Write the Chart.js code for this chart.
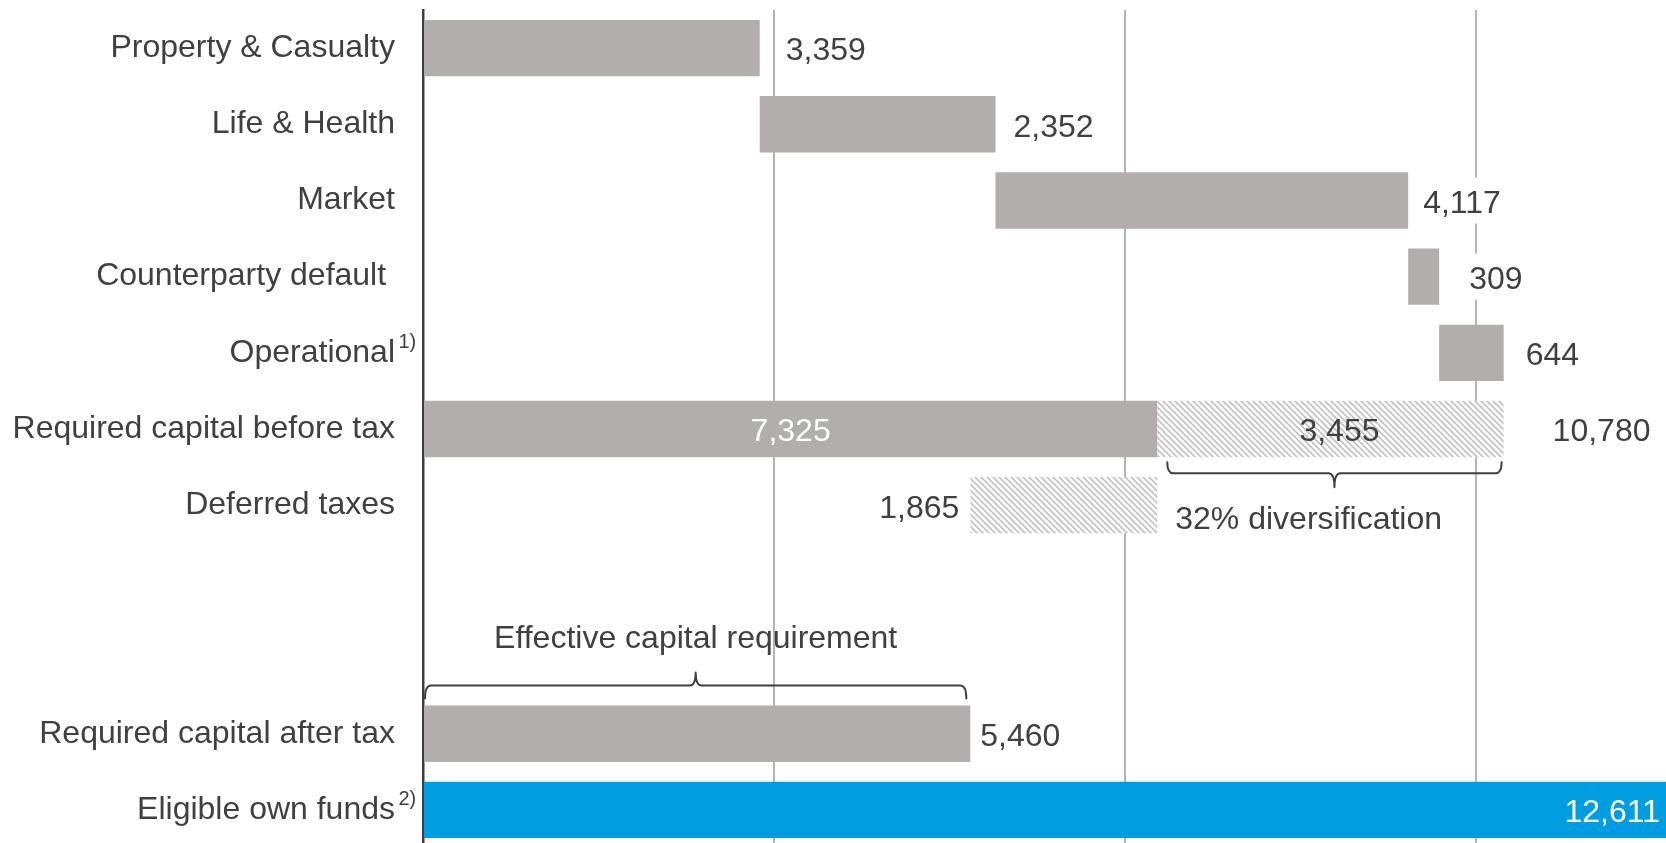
<!DOCTYPE html>
<html>
<head>
<meta charset="utf-8">
<title>Required capital and eligible own funds</title>
<script src="https://cdn.jsdelivr.net/npm/chart.js@4.4.1/dist/chart.umd.min.js"></script>
<style>
  html, body { margin: 0; padding: 0; background: #ffffff; overflow: hidden; }
  #wrap { position: relative; width: 1666px; height: 843px; overflow: hidden; }
  canvas { display: block; }
</style>
</head>
<body>
<div id="wrap"><canvas id="chart" width="1666" height="850"></canvas></div>
<script>
// ---- data -----------------------------------------------------------------
const categories = [
  'Property & Casualty', 'Life & Health', 'Market', 'Counterparty default ',
  'Operational', 'Required capital before tax', 'Deferred taxes', '', '',
  'Required capital after tax', 'Eligible own funds'
];
const footnotes = ['', '', '', '', '1)', '', '', '', '', '', '2)'];
const riskModules = [3359, 2352, 4117, 309, 644];   // stacked one after another
const undiversifiedTotal = [10780];
const diversification = [3455];
const requiredBeforeTax = [7325];
const deferredTaxes = [1865];
const requiredAfterTax = [5460];
const eligibleOwnFunds = [12611];
const gridValues = [0, 3500, 7000, 10500];
const axisMax = 12400;

// ---- look -----------------------------------------------------------------
const FONT = '"Liberation Sans", Arial, Helvetica, sans-serif';
const TEXT = '#404040';
const GREY = '#b3aeae';
const BLUE = '#009ee0';
const GRID = '#b8b3b3';

const fmt = v => v.toLocaleString('en-US');

// ---- bar ranges built from the values above ---------------------------------
const n = categories.length;
const solidBars = new Array(n).fill(null);
const hatchedBars = new Array(n).fill(null);
const blueBars = new Array(n).fill(null);

let running = 0;
riskModules.forEach((v, i) => { solidBars[i] = [running, running + v]; running += v; });
solidBars[5] = [0, requiredBeforeTax[0]];
hatchedBars[5] = [requiredBeforeTax[0], undiversifiedTotal[0]];
hatchedBars[6] = [requiredAfterTax[0], requiredAfterTax[0] + deferredTaxes[0]];
solidBars[9] = [0, requiredAfterTax[0]];
blueBars[10] = [0, eligibleOwnFunds[0]];

const canvas = document.getElementById('chart');
const ctx = canvas.getContext('2d');

function hatchPattern() {
  const s = 6;
  const t = document.createElement('canvas');
  t.width = s; t.height = s;
  const g = t.getContext('2d');
  g.fillStyle = '#ffffff';
  g.fillRect(0, 0, s, s);
  g.strokeStyle = '#c2c2c2';
  g.lineWidth = 1.6;
  g.beginPath();
  g.moveTo(-1, -1); g.lineTo(s + 1, s + 1);
  g.moveTo(-1, s - 1); g.lineTo(1, s + 1);
  g.moveTo(s - 1, -1); g.lineTo(s + 1, 1);
  g.stroke();
  return ctx.createPattern(t, 'repeat');
}

// value labels: which bar, where, colour, extra gap in px
const valueLabels = [
  { ds: 0, i: 0, text: fmt(riskModules[0]), pos: 'right', gap: 26 },
  { ds: 0, i: 1, text: fmt(riskModules[1]), pos: 'right', gap: 18 },
  { ds: 0, i: 2, text: fmt(riskModules[2]), pos: 'right', gap: 15 },
  { ds: 0, i: 3, text: fmt(riskModules[3]), pos: 'right', gap: 30 },
  { ds: 0, i: 4, text: fmt(riskModules[4]), pos: 'right', gap: 22 },
  { ds: 0, i: 5, text: fmt(requiredBeforeTax[0]), pos: 'center', color: '#ffffff', gap: 0 },
  { ds: 1, i: 5, text: fmt(diversification[0]), pos: 'center', gap: 9 },
  { ds: 1, i: 5, text: fmt(undiversifiedTotal[0]), pos: 'right', gap: 49 },
  { ds: 1, i: 6, text: fmt(deferredTaxes[0]), pos: 'left', gap: 11 },
  { ds: 0, i: 9, text: fmt(requiredAfterTax[0]), pos: 'right', gap: 10 },
  { ds: 2, i: 10, text: fmt(eligibleOwnFunds[0]), pos: 'insideEnd', color: '#ffffff', gap: 6 }
];

function drawBrace(g, x1, x2, yEnd, yLine, yNotch, r) {
  const xc = (x1 + x2) / 2;
  g.beginPath();
  g.moveTo(x1, yEnd);
  g.quadraticCurveTo(x1, yLine, x1 + r, yLine);
  g.lineTo(xc - r, yLine);
  g.quadraticCurveTo(xc, yLine, xc, yNotch);
  g.quadraticCurveTo(xc, yLine, xc + r, yLine);
  g.lineTo(x2 - r, yLine);
  g.quadraticCurveTo(x2, yLine, x2, yEnd);
  g.stroke();
}

const annotations = {
  id: 'annotations',
  afterDraw(chart) {
    const g = chart.ctx;
    const xs = chart.scales.x;
    const ys = chart.scales.y;
    g.save();

    // value labels
    g.font = '32px ' + FONT;
    g.textBaseline = 'middle';
    valueLabels.forEach(l => {
      const el = chart.getDatasetMeta(l.ds).data[l.i];
      if (!el) return;
      const left = Math.min(el.x, el.base), right = Math.max(el.x, el.base);
      const w = g.measureText(l.text).width;
      const y = el.y + 3.5;
      let x;
      if (l.pos === 'right') x = right + l.gap;
      else if (l.pos === 'left') x = left - l.gap - w;
      else if (l.pos === 'center') x = (left + right) / 2 - w / 2 + l.gap;
      else x = Math.min(right, chart.chartArea.right) - l.gap - w;
      if (l.pos === 'right' || l.pos === 'left') {
        g.fillStyle = '#ffffff';
        g.fillRect(x - 3, el.y - 23, w + 6, 46);
      }
      g.fillStyle = l.color || TEXT;
      g.textAlign = 'left';
      g.fillText(l.text, x, y);
    });

    // footnote markers next to category names
    g.font = '20px ' + FONT;
    g.fillStyle = TEXT;
    g.textAlign = 'left';
    footnotes.forEach((f, i) => {
      if (!f) return;
      const y = ys.getPixelForValue(i);
      g.fillText(f, ys.right - 28 + 3.5, y - 10);
    });

    // braces
    g.strokeStyle = TEXT;
    g.lineWidth = 2;
    g.lineJoin = 'round';
    g.lineCap = 'round';

    const divEl = chart.getDatasetMeta(1).data[5];
    const divBottom = divEl.y + divEl.height / 2;
    const dx1 = xs.getPixelForValue(requiredBeforeTax[0]) + 10;
    const dx2 = xs.getPixelForValue(undiversifiedTotal[0]) - 2;
    drawBrace(g, dx1, dx2, divBottom + 5, divBottom + 16, divBottom + 30, 6);

    const effEl = chart.getDatasetMeta(0).data[9];
    const effTop = effEl.y - effEl.height / 2;
    const ex1 = xs.getPixelForValue(0) + 2;
    const ex2 = xs.getPixelForValue(requiredAfterTax[0]) - 4;
    drawBrace(g, ex1, ex2, effTop - 7, effTop - 20, effTop - 33, 6);

    g.font = '32px ' + FONT;
    g.fillStyle = TEXT;
    g.textBaseline = 'middle';
    g.textAlign = 'left';
    const pct = Math.round(diversification[0] / undiversifiedTotal[0] * 100);
    g.fillText(pct + '% diversification', dx1 + 8, divBottom + 63);
    g.textAlign = 'center';
    g.fillText('Effective capital requirement', (ex1 + ex2) / 2, effTop - 66);

    g.restore();
  }
};

Chart.defaults.font.family = FONT;

new Chart(ctx, {
  type: 'bar',
  data: {
    labels: categories,
    datasets: [
      { data: solidBars, backgroundColor: GREY, grouped: false },
      { data: hatchedBars, backgroundColor: hatchPattern(), grouped: false },
      { data: blueBars, backgroundColor: BLUE, grouped: false }
    ]
  },
  options: {
    indexAxis: 'y',
    responsive: false,
    animation: false,
    devicePixelRatio: 1,
    categoryPercentage: 1,
    barPercentage: 0.74,
    layout: { padding: { top: 10, bottom: 2, left: 0, right: 0 } },
    plugins: { legend: { display: false }, tooltip: { enabled: false } },
    scales: {
      x: {
        type: 'linear',
        min: 0,
        max: axisMax,
        afterBuildTicks: s => { s.ticks = gridValues.map(v => ({ value: v })); },
        afterFit: s => { s.height = 0; s.paddingLeft = 0; s.paddingRight = 0; s.paddingTop = 0; s.paddingBottom = 0; },
        ticks: { display: false },
        border: { display: false },
        grid: {
          drawTicks: false,
          lineWidth: 2,
          color: c => (c.tick && c.tick.value === 0) ? 'rgba(0,0,0,0)' : GRID
        }
      },
      y: {
        type: 'category',
        afterFit: s => { s.width = 423; s.paddingTop = 0; s.paddingBottom = 0; s.paddingLeft = 0; s.paddingRight = 0; },
        ticks: { color: TEXT, font: { size: 32, family: FONT }, padding: 28, autoSkip: false },
        grid: { display: false, drawTicks: false },
        border: { display: true, color: TEXT, width: 2.5 }
      }
    }
  },
  plugins: [annotations]
});
</script>
</body>
</html>
